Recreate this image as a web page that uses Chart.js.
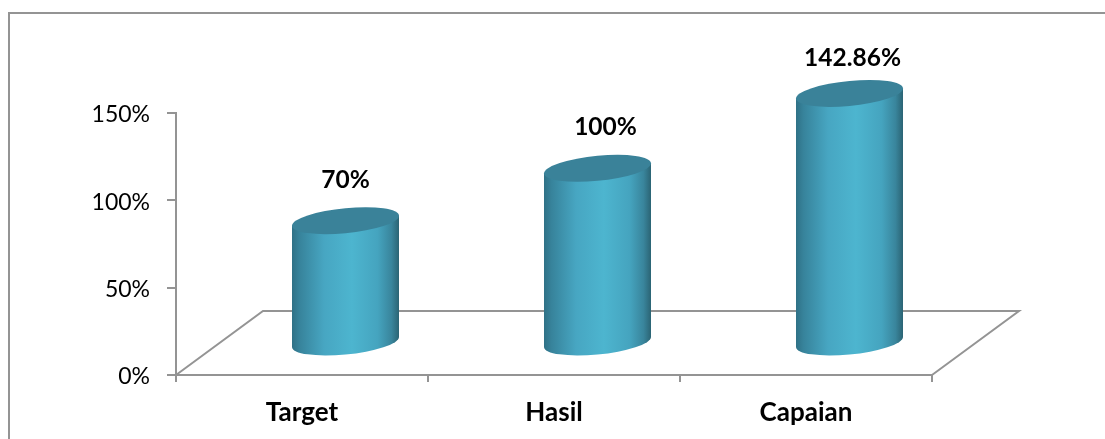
<!DOCTYPE html>
<html>
<head>
<meta charset="utf-8">
<style>
    html, body { margin: 0; padding: 0; background: #fff; }
    canvas { display: block; }
</style>
<script src="https://cdn.jsdelivr.net/npm/chart.js@4"></script>
</head>
<body>
<canvas id="capaianChart" width="1105" height="439"></canvas>
<script>
const categories = ['Target', 'Hasil', 'Capaian'];
const values = [70, 100, 142.86];
const yTicks = [0, 50, 100, 150];

const AXIS_COLOR = '#949494';
const FONT = 'Lato, Carlito, sans-serif';

// Depth of the floor, in pixels, and where the cylinders stand on it
const DEPTH_X = 87;
const DEPTH_Y = 64;
const RADIUS = 53.5;
const SKEW = 5;
const MINOR = 12.5;

// Small nudges so the value labels clear each other and the cylinder tops
const labelNudge = [
    { x: 0, y: -41 },
    { x: 8, y: -41 },
    { x: 3, y: -35 }
];

function drawCylinder(ctx, cx, top, bottom) {
    const left = cx - RADIUS;
    const right = cx + RADIUS;

    const side = ctx.createLinearGradient(left, 0, right, 0);
    side.addColorStop(0, '#2f7186');
    side.addColorStop(0.07, '#37839b');
    side.addColorStop(0.3, '#47a6c2');
    side.addColorStop(0.56, '#4db5cf');
    side.addColorStop(0.8, '#45a4bf');
    side.addColorStop(0.93, '#39859c');
    side.addColorStop(1, '#2b6474');

    // Body with the rounded front edge at the bottom
    ctx.save();
    ctx.fillStyle = side;
    ctx.beginPath();
    ctx.moveTo(left, top + SKEW);
    ctx.lineTo(left, bottom + SKEW);
    ctx.transform(1, -SKEW / RADIUS, 0, 1, cx, bottom);
    ctx.ellipse(0, 0, RADIUS, MINOR, 0, Math.PI, 0, true);
    ctx.setTransform(1, 0, 0, 1, 0, 0);
    ctx.lineTo(right, top - SKEW);
    ctx.closePath();
    ctx.fill();
    ctx.restore();

    // Top face
    ctx.save();
    ctx.transform(1, -SKEW / RADIUS, 0, 1, cx, top);
    ctx.fillStyle = '#3a8299';
    ctx.beginPath();
    ctx.ellipse(0, 0, RADIUS, MINOR, 0, 0, Math.PI * 2);
    ctx.fill();
    ctx.restore();
}

const cylinderPlugin = {
    id: 'cylinders',
    beforeDatasetsDraw(chart) {
        const { ctx, chartArea } = chart;
        const { left, right, bottom } = chartArea;

        // Floor behind the bars
        ctx.save();
        ctx.strokeStyle = AXIS_COLOR;
        ctx.lineWidth = 2;
        ctx.beginPath();
        ctx.moveTo(left, bottom);
        ctx.lineTo(left + DEPTH_X, bottom - DEPTH_Y);
        ctx.lineTo(right + DEPTH_X, bottom - DEPTH_Y);
        ctx.lineTo(right, bottom);
        ctx.stroke();
        ctx.restore();
    },
    afterDatasetsDraw(chart) {
        const { ctx } = chart;
        const meta = chart.getDatasetMeta(0);

        meta.data.forEach((bar, i) => {
            // Bars stand in the middle of the floor depth
            const cx = bar.x + DEPTH_X / 2;
            const top = bar.y - DEPTH_Y / 2;
            const bottom = bar.base - DEPTH_Y / 2;
            drawCylinder(ctx, cx, top, bottom);

            ctx.save();
            ctx.fillStyle = '#000';
            ctx.font = 'bold 24.5px ' + FONT;
            ctx.textAlign = 'center';
            ctx.textBaseline = 'middle';
            ctx.fillText(values[i] + '%', cx + labelNudge[i].x, top + labelNudge[i].y);
            ctx.restore();
        });
    }
};

const frameCtx = document.getElementById('capaianChart').getContext('2d');

new Chart(frameCtx, {
    type: 'bar',
    data: {
        labels: categories,
        datasets: [{
            data: values,
            backgroundColor: 'transparent',
            borderWidth: 0
        }]
    },
    options: {
        responsive: false,
        animation: false,
        layout: {
            padding: { left: 0, top: 113, right: 173, bottom: 0 }
        },
        plugins: {
            legend: { display: false },
            tooltip: { enabled: false }
        },
        scales: {
            x: {
                afterFit(scale) { scale.height = 64; },
                border: { color: AXIS_COLOR, width: 2 },
                grid: { drawOnChartArea: false, color: AXIS_COLOR, tickLength: 7, lineWidth: 2 },
                ticks: {
                    color: '#000',
                    padding: 15,
                    maxRotation: 0,
                    font: { family: FONT, size: 26, weight: 'bold' }
                }
            },
            y: {
                min: 0,
                max: 150,
                afterFit(scale) { scale.width = 176; },
                afterBuildTicks(scale) { scale.ticks = yTicks.map(v => ({ value: v })); },
                border: { color: AXIS_COLOR, width: 2 },
                grid: { drawOnChartArea: false, color: AXIS_COLOR, tickLength: 9, lineWidth: 2 },
                ticks: {
                    color: '#000',
                    padding: 17,
                    labelOffset: 2,
                    callback: v => v + '%',
                    font: { family: FONT, size: 23 }
                }
            }
        }
    },
    plugins: [cylinderPlugin, {
        // Top and left edges of the chart frame
        id: 'frame',
        beforeDraw(chart) {
            const { ctx, width, height } = chart;
            ctx.save();
            ctx.strokeStyle = AXIS_COLOR;
            ctx.lineWidth = 2;
            ctx.beginPath();
            ctx.moveTo(9, height);
            ctx.lineTo(9, 13);
            ctx.lineTo(width, 13);
            ctx.stroke();
            ctx.restore();
        }
    }]
});
</script>
</body>
</html>
